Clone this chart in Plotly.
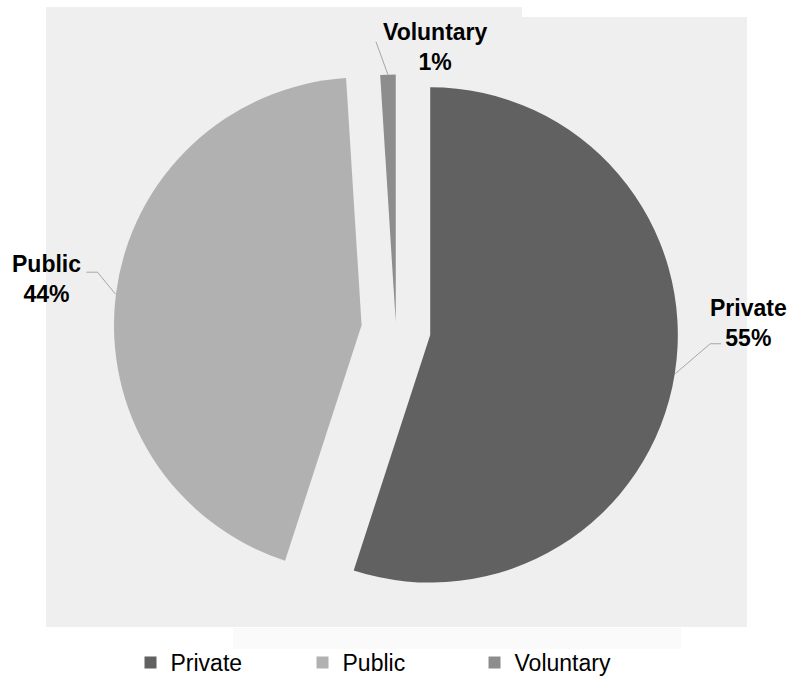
import math
import plotly.graph_objects as go

# Sector shares
labels = ["Private", "Public", "Voluntary"]
values = [55, 44, 1]
pulls = [0.14, 0.14, 0.03]
colors = ["#616161", "#b1b1b1", "#8d8d8d"]

W, H = 791, 684
# pie domain (paper fractions)
dom_x = [0.1432, 0.8580]
dom_y = [0.1042, 0.9308]

# leader-line shape for each label: (diagonal offset, horizontal run), label offset from line end
leader = {
    "Private": ((35, -30), 11, (27, -21)),
    "Public": ((-18, -22), -11, (-40, 7)),
    "Voluntary": ((-12, -33), 0, (60, 5)),
}

fig = go.Figure()

# geometry of the pie as plotly lays it out (margins are zero)
dw = W * (dom_x[1] - dom_x[0])
dh = H * (dom_y[1] - dom_y[0])
r = min(dw, dh) / 2 / (1 + max(pulls))
cx = W * (dom_x[0] + dom_x[1]) / 2
cy = H * (1 - (dom_y[0] + dom_y[1]) / 2)

total = sum(values)
cum = 0
annotations = []
for lab, v, p in zip(labels, values, pulls):
    frac = v / total
    mid = 2 * math.pi * (cum + frac / 2)  # clockwise from 12 o'clock
    cum += frac
    dx, dy = math.sin(mid), -math.cos(mid)
    ax_ = cx + dx * r * (1 + p)
    ay_ = cy + dy * r * (1 + p)
    (ox, oy), run, (lx, ly) = leader[lab]
    ex, ey = ax_ + ox, ay_ + oy
    fx = ex + run
    fig.add_trace(go.Scatter(
        x=[ax_, ex, fx], y=[ay_, ey, ey], mode="lines",
        line=dict(color="#a6a6a6", width=1), showlegend=False,
        hoverinfo="skip", xaxis="x", yaxis="y"))
    annotations.append(dict(
        x=fx + lx, y=ey + ly, xref="x", yref="y", showarrow=False,
        text=f"<b>{lab}</b><br><b>{round(frac * 100)}%</b>",
        font=dict(family="Liberation Sans, Arial", size=23, color="#000000"),
        xanchor="center", yanchor="middle", align="center"))

fig.add_trace(go.Pie(
    labels=labels, values=values, pull=pulls, sort=False,
    direction="clockwise", rotation=0,
    marker=dict(colors=colors, line=dict(width=0)),
    textinfo="none", hoverinfo="label+percent",
    domain=dict(x=dom_x, y=dom_y)))

# chart-area backdrop
backdrop = [
    dict(x0=46, x1=522, y0=7, y1=628, fillcolor="#efefef"),
    dict(x0=522, x1=747, y0=17, y1=628, fillcolor="#efefef"),
    dict(x0=233, x1=681, y0=629, y1=650, fillcolor="#fafafa"),
]
shapes = [dict(type="rect", xref="x", yref="y", line=dict(width=0), layer="below", **b)
          for b in backdrop]

fig.update_layout(
    width=W, height=H,
    margin=dict(l=0, r=0, t=0, b=0),
    paper_bgcolor="#ffffff", plot_bgcolor="rgba(0,0,0,0)",
    xaxis=dict(range=[0, W], domain=[0, 1], visible=False, fixedrange=True),
    yaxis=dict(range=[H, 0], domain=[0, 1], visible=False, fixedrange=True),
    shapes=shapes,
    annotations=annotations,
    showlegend=True,
    legend=dict(orientation="h", x=0.165, xanchor="left", y=0.03, yanchor="middle",
                entrywidth=127, entrywidthmode="pixels",
                font=dict(family="Liberation Sans, Arial", size=23, color="#000000"),
                bgcolor="rgba(0,0,0,0)"),
)

fig.write_html("out.html")
